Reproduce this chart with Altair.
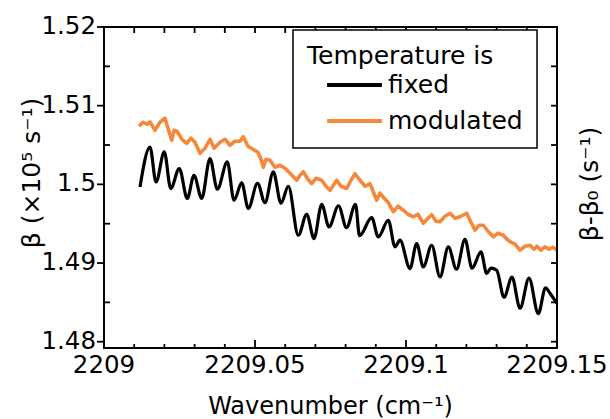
import altair as alt
import pandas as pd

# ---- data ----
fixed_x = [2209.01192, 2209.01523, 2209.01722, 2209.01997, 2209.02209, 2209.02493, 2209.02758, 2209.02980,
           2209.03235, 2209.03510, 2209.03752, 2209.04083, 2209.04305, 2209.04560, 2209.04778, 2209.05083,
           2209.05331, 2209.05606, 2209.05861, 2209.06103, 2209.06434, 2209.06712, 2209.06954, 2209.07209,
           2209.07450, 2209.07765, 2209.08030, 2209.08328, 2209.08460, 2209.08864, 2209.09083, 2209.09414,
           2209.09636, 2209.09801, 2209.10132, 2209.10354, 2209.10573, 2209.10851, 2209.11126, 2209.11401,
           2209.11672, 2209.11954, 2209.12185, 2209.12483, 2209.12672, 2209.12815, 2209.13003, 2209.13245,
           2209.13510, 2209.13775, 2209.14073, 2209.14381, 2209.14619, 2209.14768, 2209.14990]
fixed_y = [1.49967, 1.50475, 1.50030, 1.50412, 1.49947, 1.50201, 1.49820, 1.50116,
           1.49820, 1.50328, 1.49938, 1.50285, 1.49798, 1.50018, 1.49693, 1.50014,
           1.49766, 1.50158, 1.49760, 1.49976, 1.49353, 1.49620, 1.49311, 1.49747,
           1.49459, 1.49728, 1.49449, 1.49747, 1.49347, 1.49576, 1.49332, 1.49544,
           1.49205, 1.49290, 1.48930, 1.49248, 1.48950, 1.49226, 1.48823, 1.49205,
           1.48921, 1.49302, 1.48934, 1.49141, 1.48867, 1.48934, 1.48908, 1.48565,
           1.48820, 1.48426, 1.48807, 1.48358, 1.48686, 1.48616, 1.48489]

mod_x = [2209.01159, 2209.01291, 2209.01424, 2209.01523, 2209.01689, 2209.01854, 2209.02020, 2209.02119,
         2209.02242, 2209.02318, 2209.02417, 2209.02583, 2209.02738, 2209.02881, 2209.03013, 2209.03179,
         2209.03344, 2209.03510, 2209.03642, 2209.03841, 2209.04007, 2209.04172, 2209.04338, 2209.04503,
         2209.04613, 2209.04768, 2209.04934, 2209.05099, 2209.05199, 2209.05275, 2209.05364, 2209.05497,
         2209.05662, 2209.05828, 2209.05993, 2209.06159, 2209.06381, 2209.06490, 2209.06599, 2209.06755,
         2209.06877, 2209.07020, 2209.07209, 2209.07351, 2209.07483, 2209.07705, 2209.07848, 2209.08036,
         2209.08179, 2209.08311, 2209.08477, 2209.08642, 2209.08808, 2209.09030, 2209.09139, 2209.09248,
         2209.09404, 2209.09579, 2209.09735, 2209.09911, 2209.10066, 2209.10242, 2209.10397, 2209.10573,
         2209.10728, 2209.10851, 2209.10993, 2209.11126, 2209.11291, 2209.11457, 2209.11623, 2209.11788,
         2209.12010, 2209.12152, 2209.12285, 2209.12417, 2209.12560, 2209.12715, 2209.12891, 2209.13046,
         2209.13222, 2209.13344, 2209.13444, 2209.13609, 2209.13775, 2209.13940, 2209.14106, 2209.14238,
         2209.14338, 2209.14470, 2209.14603, 2209.14735, 2209.14868, 2209.14990]
mod_y = [1.50738, 1.50789, 1.50764, 1.50795, 1.50687, 1.50789, 1.50840, 1.50713, 1.50560, 1.50687,
         1.50674, 1.50573, 1.50522, 1.50586, 1.50535, 1.50395, 1.50459, 1.50573, 1.50459, 1.50535,
         1.50573, 1.50497, 1.50548, 1.50548, 1.50605, 1.50484, 1.50446, 1.50408, 1.50319, 1.50217,
         1.50319, 1.50306, 1.50217, 1.50243, 1.50205, 1.50141, 1.50052, 1.50116, 1.50160, 1.50065,
         1.50010, 1.50077, 1.50052, 1.49976, 1.49925, 1.50052, 1.49976, 1.49947, 1.50052, 1.50135,
         1.50052, 1.49976, 1.50008, 1.49798, 1.49887, 1.49836, 1.49773, 1.49652, 1.49722, 1.49671,
         1.49620, 1.49588, 1.49620, 1.49506, 1.49569, 1.49614, 1.49531, 1.49525, 1.49595, 1.49633,
         1.49569, 1.49588, 1.49633, 1.49518, 1.49417, 1.49480, 1.49480, 1.49404, 1.49334, 1.49379,
         1.49353, 1.49302, 1.49271, 1.49239, 1.49163, 1.49213, 1.49226, 1.49175, 1.49213, 1.49163,
         1.49207, 1.49175, 1.49201, 1.49163]

series_names = ["fixed", "modulated"]
series_colors = ["#000000", "#F5883A"]

x_major = [2209.0, 2209.05, 2209.1, 2209.15]
x_major_labels = ["2209", "2209.05", "2209.1", "2209.15"]
x_minor = [2209.01, 2209.02, 2209.03, 2209.04, 2209.06, 2209.07, 2209.08, 2209.09,
           2209.11, 2209.12, 2209.13, 2209.14]
x_all = sorted(x_major + x_minor)
y_major = [1.48, 1.49, 1.50, 1.51, 1.52]
y_major_labels = ["1.48", "1.49", "1.5", "1.51", "1.52"]
y_minor = [1.485, 1.495, 1.505, 1.515]
y_all = sorted(y_major + y_minor)

x_title = ["Wavenumber (cm⁻¹)"]
y_title = ["β (×10⁵ s⁻¹)"]
right_title = ["β-β₀ (s⁻¹)"]

FONT = "DejaVu Sans"
W, H = 453, 321
LINE_W = 1.8

df = pd.concat([
    pd.DataFrame({"x": fixed_x, "y": fixed_y, "series": "fixed"}),
    pd.DataFrame({"x": mod_x, "y": mod_y, "series": "modulated"}),
], ignore_index=True)

xscale = alt.Scale(domain=[2209.0, 2209.15], nice=False, zero=False)
yscale = alt.Scale(domain=[1.4792, 1.52], nice=False, zero=False)

color_enc = alt.Color(
    "series:N",
    scale=alt.Scale(domain=series_names, range=series_colors),
    legend=alt.Legend(title="Temperature is", orient="none", legendX=189, legendY=3,
                      titleFont=FONT, titleFontSize=25, titleFontWeight="normal",
                      titleColor="black", titlePadding=3, titleLimit=400,
                      labelFont=FONT, labelFontSize=25, labelColor="black",
                      labelLimit=400,
                      symbolType="stroke", symbolSize=3000, symbolStrokeWidth=4,
                      symbolOffset=18, labelOffset=4, clipHeight=26, rowPadding=10,
                      padding=14, strokeColor="black", fillColor="white"))

base_lines = alt.Chart(df).encode(
    x=alt.X("x:Q", scale=xscale, axis=None),
    y=alt.Y("y:Q", scale=yscale, axis=None),
    color=color_enc,
)
fixed_line = base_lines.transform_filter(alt.datum.series == "fixed").mark_line(
    strokeWidth=3.2, strokeJoin="round", interpolate="monotone")
mod_line = base_lines.transform_filter(alt.datum.series == "modulated").mark_line(
    strokeWidth=3.6, strokeJoin="round", interpolate="linear")

# plot frame
frame = alt.Chart(pd.DataFrame({"x0": [2209.0], "x1": [2209.15], "y0": [1.4792], "y1": [1.52]})).mark_rect(
    fill=None, filled=False, stroke="black", strokeWidth=LINE_W).encode(
    x=alt.X("x0:Q", scale=xscale, axis=None), x2="x1:Q",
    y=alt.Y("y0:Q", scale=yscale, axis=None), y2="y1:Q")


def xticks(values, y0, y1):
    return alt.Chart(pd.DataFrame({"x": values})).mark_rule(color="black", strokeWidth=LINE_W).encode(
        x=alt.X("x:Q", scale=xscale, axis=None), y=alt.value(y0), y2=alt.value(y1))


def yticks(values, x0, x1):
    return alt.Chart(pd.DataFrame({"y": values})).mark_rule(color="black", strokeWidth=LINE_W).encode(
        y=alt.Y("y:Q", scale=yscale, axis=None), x=alt.value(x0), x2=alt.value(x1))


tick_layers = [
    xticks(x_major, H, H - 8),      # bottom, major, inward
    xticks(x_minor, H, H - 4),      # bottom, minor, inward
    xticks(x_all, 0, 6),            # top, inward
    yticks(y_major, -7, 0),         # left, major, outward
    yticks(y_minor, 0, 6),          # left, minor, inward
    yticks(y_all, W - 6, W),        # right, inward
]

x_labels = alt.Chart(pd.DataFrame({"x": x_major, "label": x_major_labels})).mark_text(
    font=FONT, fontSize=24.5, color="black", align="center", baseline="top").encode(
    x=alt.X("x:Q", scale=xscale, axis=None), y=alt.value(H + 6), text="label:N")

y_labels = alt.Chart(pd.DataFrame({"y": y_major, "label": y_major_labels})).mark_text(
    font=FONT, fontSize=24.5, color="black", align="right", baseline="middle").encode(
    y=alt.Y("y:Q", scale=yscale, axis=None), x=alt.value(-8), text="label:N")


def title_text(label, x, y, angle, size):
    return alt.Chart(pd.DataFrame({"label": label})).mark_text(
        font=FONT, fontSize=size, color="black", angle=angle, align="center", baseline="middle").encode(
        text="label:N", x=alt.value(x), y=alt.value(y))


titles = [
    title_text(x_title, W / 2, H + 59, 0, 24),
    title_text(y_title, -72, 146, 270, 25),
    title_text(right_title, W + 33, 157, 270, 25),
]

chart = alt.layer(fixed_line, mod_line, frame, *tick_layers, x_labels, y_labels, *titles).properties(
    width=W, height=H,
    autosize=alt.AutoSizeParams(type="none"),
    padding={"left": 104, "top": 27, "right": 53, "bottom": 71},
    background="white",
).configure_view(
    stroke="black", strokeWidth=1.5
).configure_legend(
    strokeWidth=1.5
)

chart.save("out.html", embed_options={"renderer": "svg", "actions": False})
